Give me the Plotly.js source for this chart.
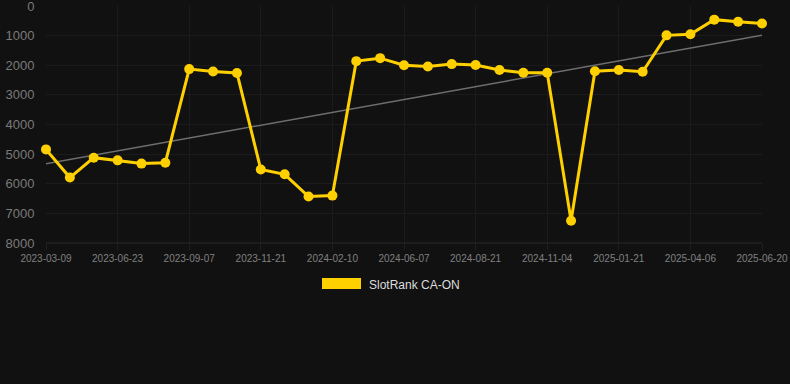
<!DOCTYPE html>
<html><head><meta charset="utf-8">
<script src="https://cdn.plot.ly/plotly-3.0.1.min.js"></script>
<style>html,body{margin:0;padding:0;background:#111111;}#c{width:790px;height:384px;}</style>
</head><body><div id="c"></div>
<script>
const seriesName = "SlotRank CA-ON";
const tickIndex = [0,3,6,9,12,15,18,21,24,27,30];
const tickLabels = ["2023-03-09","2023-06-23","2023-09-07","2023-11-21","2024-02-10","2024-06-07","2024-08-21","2024-11-04","2025-01-21","2025-04-06","2025-06-20"];
const rankValues = [4840,5790,5120,5210,5320,5290,2130,2210,2260,5520,5680,6430,6400,1860,1760,2000,2040,1960,1990,2160,2250,2250,7250,2200,2160,2220,990,950,460,530,590];
const yTicks = [0,1000,2000,3000,4000,5000,6000,7000,8000];

const xs = rankValues.map((_, i) => i);
// least-squares trend
const n = xs.length;
const mx = xs.reduce((a,b)=>a+b,0)/n, my = rankValues.reduce((a,b)=>a+b,0)/n;
let sxy=0, sxx=0;
for (let i=0;i<n;i++){ sxy += (xs[i]-mx)*(rankValues[i]-my); sxx += (xs[i]-mx)**2; }
const slope = sxy/sxx, icpt = my - slope*mx;
const trendX = [xs[0], xs[n-1]];
const trendY = trendX.map(x => icpt + slope*x);

const traces = [
  {x: trendX, y: trendY, mode: 'lines', line: {color: '#6e6e6e', width: 1.5}, hoverinfo: 'skip', showlegend: false, cliponaxis: false},
  {x: xs, y: rankValues, mode: 'lines+markers', name: seriesName, cliponaxis: false,
   line: {color: '#FFD000', width: 3}, marker: {color: '#FFD000', size: 10}, showlegend: false}
];

const layout = {
  width: 790, height: 384,
  paper_bgcolor: '#111111', plot_bgcolor: '#111111',
  margin: {l: 46, r: 28, t: 6, b: 141},
  font: {family: 'Liberation Sans, Arial, sans-serif', color: '#808080'},
  xaxis: {
    range: [0, 30], tickmode: 'array', tickvals: tickIndex, ticktext: tickLabels,
    showgrid: true, gridcolor: '#1b1b1b', gridwidth: 1, zeroline: false,
    showline: false, ticks: 'outside', ticklen: 6, tickcolor: '#1f1f1f',
    tickfont: {size: 10, color: '#808080'}, fixedrange: true, ticklabeloverflow: 'allow'
  },
  yaxis: {
    range: [8000, -1], tickmode: 'array', tickvals: yTicks,
    ticktext: yTicks.map(String),
    showgrid: true, gridcolor: '#1b1b1b', gridwidth: 1, zeroline: false,
    ticks: 'outside', ticklen: 8, tickcolor: 'rgba(0,0,0,0)',
    tickfont: {size: 13, color: '#7a7a7a'}, fixedrange: true, ticklabeloverflow: 'allow'
  },
  shapes: [
    {type: 'line', xref: 'paper', yref: 'paper', x0: 0, x1: 1, y0: 0, y1: 0, line: {color: '#2a2a2a', width: 1}},
    {type: 'rect', xref: 'paper', yref: 'paper',
     x0: (322-46)/716, x1: (361-46)/716, y0: -(278-243)/237, y1: -(289-243)/237,
     fillcolor: '#FFD000', line: {width: 0}}
  ],
  annotations: [
    {xref: 'paper', yref: 'paper', x: (367-46)/716, y: -(285-243)/237, xanchor: 'left', yanchor: 'middle',
     text: seriesName, showarrow: false, font: {size: 12, color: '#dddddd'}}
  ]
};
Plotly.newPlot('c', traces, layout, {displayModeBar: false, staticPlot: true});
</script></body></html>
